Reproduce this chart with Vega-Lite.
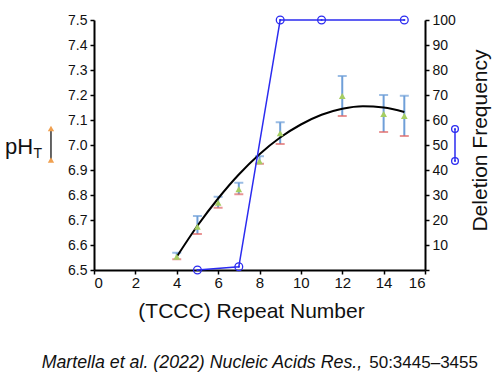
{
  "$schema": "https://vega.github.io/schema/vega-lite/v6.json",
  "width": 331,
  "height": 250,
  "autosize": {"type": "none"},
  "padding": {"left": 94, "top": 20, "right": 74, "bottom": 110},
  "background": "white",
  "config": {
    "view": {"stroke": null},
    "axis": {"labelFont": "Liberation Sans", "titleFont": "Liberation Sans", "labelColor": "#111", "titleColor": "#111", "domainColor": "#000", "tickColor": "#000", "domainWidth": 2, "tickWidth": 1.5, "tickSize": 4, "grid": false, "titleFontWeight": "normal", "labelOverlap": false},
    "axisLeft": {"tickCount": 10, "labelExpr": "format(datum.value, '.1f')", "labelFontSize": 14, "labelPadding": 3},
    "axisRight": {"tickCount": 10, "labelExpr": "datum.value == 0 ? '' : format(datum.value, 'd')", "labelFontSize": 14, "labelPadding": 3},
    "axisBottom": {"tickCount": 8, "labelExpr": "format(datum.value, 'd')", "labelFontSize": 15, "labelPadding": 1},
    "text": {"font": "Liberation Sans"}
  },
  "datasets": {
    "ph": [
      {"n": 4, "ph": 6.553, "lo": 6.543, "hi": 6.569},
      {"n": 5, "ph": 6.673, "lo": 6.644, "hi": 6.716},
      {"n": 6, "ph": 6.769, "lo": 6.749, "hi": 6.793},
      {"n": 7, "ph": 6.823, "lo": 6.803, "hi": 6.849},
      {"n": 8, "ph": 6.935, "lo": 6.925, "hi": 6.955},
      {"n": 9, "ph": 7.047, "lo": 7.004, "hi": 7.091},
      {"n": 12, "ph": 7.196, "lo": 7.116, "hi": 7.276},
      {"n": 14, "ph": 7.124, "lo": 7.052, "hi": 7.2},
      {"n": 15, "ph": 7.116, "lo": 7.036, "hi": 7.197}
    ],
    "fit": [
      {"n": 4, "ph": 6.553}, {"n": 5, "ph": 6.677}, {"n": 6, "ph": 6.786}, {"n": 7, "ph": 6.882},
      {"n": 8, "ph": 6.963}, {"n": 9, "ph": 7.03}, {"n": 10, "ph": 7.082}, {"n": 11, "ph": 7.121},
      {"n": 12, "ph": 7.145}, {"n": 13, "ph": 7.155}, {"n": 14, "ph": 7.15}, {"n": 15, "ph": 7.132}
    ],
    "del": [
      {"n": 5, "freq": 0}, {"n": 7, "freq": 1.3}, {"n": 9, "freq": 100}, {"n": 11, "freq": 100}, {"n": 15, "freq": 100}
    ],
    "phkey": [{"n": -2.08, "v": 7.066}, {"n": -2.08, "v": 6.94}],
    "delkey": [{"n": 17.45, "v": 56.4}, {"n": 17.45, "v": 43.6}]
  },
  "layer": [
    {
      "layer": [
        {
          "data": {"name": "ph"},
          "mark": {"type": "rule", "color": "#6f9fd8", "strokeWidth": 2},
          "encoding": {
            "x": {"field": "n", "type": "quantitative", "scale": {"domain": [0, 16], "nice": false, "zero": false},
              "axis": {"title": "(TCCC) Repeat Number", "titleFontSize": 21, "titleX": 157, "titleY": 47, "titleBaseline": "alphabetic", "titleAlign": "center"}},
            "y": {"field": "lo", "type": "quantitative", "scale": {"domain": [6.5, 7.5], "nice": false, "zero": false},
              "axis": {"title": null}},
            "y2": {"field": "hi"}
          }
        },
        {
          "data": {"name": "ph"},
          "mark": {"type": "tick", "orient": "horizontal", "color": "#6f9fd8", "size": 9, "thickness": 2},
          "encoding": {
            "x": {"field": "n", "type": "quantitative"},
            "y": {"field": "hi", "type": "quantitative"}
          }
        },
        {
          "data": {"name": "ph"},
          "mark": {"type": "tick", "orient": "horizontal", "color": "#e06666", "size": 9, "thickness": 2},
          "encoding": {
            "x": {"field": "n", "type": "quantitative"},
            "y": {"field": "lo", "type": "quantitative"}
          }
        },
        {
          "data": {"name": "fit"},
          "mark": {"type": "line", "color": "#000", "strokeWidth": 2, "interpolate": "monotone"},
          "encoding": {
            "x": {"field": "n", "type": "quantitative"},
            "y": {"field": "ph", "type": "quantitative"}
          }
        },
        {
          "data": {"name": "ph"},
          "mark": {"type": "point", "shape": "triangle-up", "filled": true, "color": "#a5cd63", "size": 45, "opacity": 1},
          "encoding": {
            "x": {"field": "n", "type": "quantitative"},
            "y": {"field": "ph", "type": "quantitative"}
          }
        },
        {
          "data": {"name": "phkey"},
          "mark": {"type": "line", "color": "#333", "strokeWidth": 1.5},
          "encoding": {
            "x": {"field": "n", "type": "quantitative"},
            "y": {"field": "v", "type": "quantitative"}
          }
        },
        {
          "data": {"name": "phkey"},
          "mark": {"type": "point", "shape": "triangle-up", "filled": true, "color": "#f0a050", "size": 40, "opacity": 1},
          "encoding": {
            "x": {"field": "n", "type": "quantitative"},
            "y": {"field": "v", "type": "quantitative"}
          }
        },
        {
          "data": {"values": [{"t": "pH", "n": -4.3, "v": 6.963}]},
          "mark": {"type": "text", "fontSize": 22, "align": "left", "baseline": "alphabetic", "color": "#111"},
          "encoding": {
            "x": {"field": "n", "type": "quantitative"},
            "y": {"field": "v", "type": "quantitative"},
            "text": {"field": "t"}
          }
        },
        {
          "data": {"values": [{"t": "T", "n": -2.92, "v": 6.949}]},
          "mark": {"type": "text", "fontSize": 14, "align": "left", "baseline": "alphabetic", "color": "#111"},
          "encoding": {
            "x": {"field": "n", "type": "quantitative"},
            "y": {"field": "v", "type": "quantitative"},
            "text": {"field": "t"}
          }
        },
        {
          "data": {"values": [{"t": "Martella et al. (2022) Nucleic Acids Res.,", "n": -2.53, "v": 6.108}]},
          "mark": {"type": "text", "fontSize": 17.8, "fontStyle": "italic", "align": "left", "baseline": "alphabetic", "color": "#111"},
          "encoding": {
            "x": {"field": "n", "type": "quantitative"},
            "y": {"field": "v", "type": "quantitative"},
            "text": {"field": "t"}
          }
        },
        {
          "data": {"values": [{"t": "50:3445–3455", "n": 18.56, "v": 6.108}]},
          "mark": {"type": "text", "fontSize": 17, "align": "right", "baseline": "alphabetic", "color": "#111"},
          "encoding": {
            "x": {"field": "n", "type": "quantitative"},
            "y": {"field": "v", "type": "quantitative"},
            "text": {"field": "t"}
          }
        }
      ]
    },
    {
      "layer": [
        {
          "data": {"name": "del"},
          "mark": {"type": "line", "color": "#2b2bf0", "strokeWidth": 1.5},
          "encoding": {
            "x": {"field": "n", "type": "quantitative"},
            "y": {"field": "freq", "type": "quantitative", "scale": {"domain": [0, 100], "nice": false},
              "axis": {"orient": "right", "title": "Deletion Frequency", "titleFontSize": 21, "titleAngle": 270, "titleX": 61, "titleY": 120, "titleAlign": "center", "titleBaseline": "alphabetic"}}
          }
        },
        {
          "data": {"name": "del"},
          "mark": {"type": "point", "shape": "circle", "filled": false, "color": "#2b2bf0", "size": 60, "strokeWidth": 1.3, "opacity": 1},
          "encoding": {
            "x": {"field": "n", "type": "quantitative"},
            "y": {"field": "freq", "type": "quantitative"}
          }
        },
        {
          "data": {"name": "del"},
          "mark": {"type": "point", "shape": "circle", "filled": true, "color": "#2b2bf0", "size": 5, "opacity": 1},
          "encoding": {
            "x": {"field": "n", "type": "quantitative"},
            "y": {"field": "freq", "type": "quantitative"}
          }
        },
        {
          "data": {"name": "delkey"},
          "mark": {"type": "line", "color": "#2b2bf0", "strokeWidth": 1.5},
          "encoding": {
            "x": {"field": "n", "type": "quantitative"},
            "y": {"field": "v", "type": "quantitative"}
          }
        },
        {
          "data": {"name": "delkey"},
          "mark": {"type": "point", "shape": "circle", "filled": false, "color": "#2b2bf0", "size": 45, "strokeWidth": 1.3, "opacity": 1},
          "encoding": {
            "x": {"field": "n", "type": "quantitative"},
            "y": {"field": "v", "type": "quantitative"}
          }
        },
        {
          "data": {"name": "delkey"},
          "mark": {"type": "point", "shape": "circle", "filled": true, "color": "#2b2bf0", "size": 4, "opacity": 1},
          "encoding": {
            "x": {"field": "n", "type": "quantitative"},
            "y": {"field": "v", "type": "quantitative"}
          }
        }
      ]
    }
  ],
  "resolve": {"scale": {"y": "independent"}, "axis": {"y": "independent"}}
}
